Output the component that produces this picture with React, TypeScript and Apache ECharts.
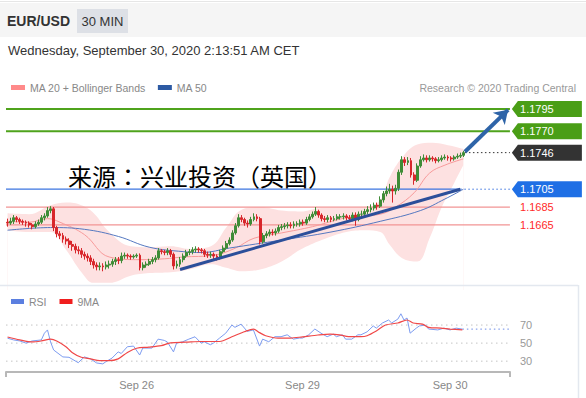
import React, { useEffect, useRef } from 'react';
import * as echarts from 'echarts';

const FONT = '"Liberation Sans", Arial, Helvetica, sans-serif';
const CJK = '"Noto Sans CJK TC", "Noto Sans CJK SC", sans-serif';

// ---- candles (30 min, EUR/USD) ----
const opens = [
  1.1668,1.1667,1.1669,1.1673,1.1671,1.1669,1.1668,1.1667,1.1665,1.1663,
  1.1666,1.1668,1.1673,1.1675,1.1681,1.1683,1.1662,1.1655,1.1653,1.1649,
  1.1647,1.1643,1.1641,1.1637,1.1636,1.1632,1.1630,1.1628,1.1624,1.1620,
  1.1618,1.1619,1.1618,1.1620,1.1621,1.1624,1.1626,1.1625,1.1630,1.1631,
  1.1630,1.1629,1.1630,1.1631,1.1617,1.1620,1.1621,1.1624,1.1626,1.1628,
  1.1636,1.1635,1.1634,1.1636,1.1632,1.1619,1.1621,1.1626,1.1630,1.1634,
  1.1635,1.1637,1.1638,1.1637,1.1636,1.1632,1.1631,1.1632,1.1630,1.1628,
  1.1635,1.1639,1.1644,1.1648,1.1656,1.1664,1.1673,1.1671,1.1667,1.1666,
  1.1671,1.1674,1.1672,1.1646,1.1653,1.1655,1.1657,1.1656,1.1658,1.1662,
  1.1663,1.1664,1.1665,1.1664,1.1666,1.1666,1.1668,1.1667,1.1671,1.1674,
  1.1677,1.1680,1.1676,1.1672,1.1671,1.1673,1.1671,1.1672,1.1674,1.1674,
  1.1675,1.1673,1.1672,1.1676,1.1671,1.1677,1.1677,1.1680,1.1682,1.1684,
  1.1687,1.1686,1.1693,1.1700,1.1703,1.1705,1.1703,1.1706,1.1724,1.1738,
  1.1735,1.1737,1.1721,1.1715,1.1731,1.1738,1.1740,1.1738,1.1740,1.1739,
  1.1737,1.1738,1.1740,1.1741,1.1740,1.1739,1.1741,1.1742,1.1743
];
const closes = [
  1.1667,1.1669,1.1673,1.1671,1.1669,1.1668,1.1667,1.1665,1.1663,1.1666,
  1.1668,1.1673,1.1675,1.1681,1.1683,1.1662,1.1655,1.1653,1.1649,1.1647,
  1.1643,1.1641,1.1637,1.1636,1.1632,1.1630,1.1628,1.1624,1.1620,1.1618,
  1.1619,1.1618,1.1620,1.1621,1.1624,1.1626,1.1625,1.1630,1.1631,1.1630,
  1.1629,1.1630,1.1631,1.1617,1.1620,1.1621,1.1624,1.1626,1.1628,1.1636,
  1.1635,1.1634,1.1636,1.1632,1.1619,1.1621,1.1626,1.1630,1.1634,1.1635,
  1.1637,1.1638,1.1637,1.1636,1.1632,1.1631,1.1632,1.1630,1.1628,1.1635,
  1.1639,1.1644,1.1648,1.1656,1.1664,1.1673,1.1671,1.1667,1.1666,1.1671,
  1.1674,1.1672,1.1646,1.1653,1.1655,1.1657,1.1656,1.1658,1.1662,1.1663,
  1.1664,1.1665,1.1664,1.1666,1.1666,1.1668,1.1667,1.1671,1.1674,1.1677,
  1.1680,1.1676,1.1672,1.1671,1.1673,1.1671,1.1672,1.1674,1.1674,1.1675,
  1.1673,1.1672,1.1676,1.1671,1.1677,1.1677,1.1680,1.1682,1.1684,1.1687,
  1.1686,1.1693,1.1700,1.1703,1.1705,1.1703,1.1706,1.1724,1.1738,1.1735,
  1.1737,1.1721,1.1715,1.1731,1.1738,1.1740,1.1738,1.1740,1.1739,1.1737,
  1.1738,1.1740,1.1741,1.1740,1.1739,1.1741,1.1742,1.1743,1.1746
];
const highs = [
  1.1672,1.1673,1.1676,1.1675,1.1673,1.1671,1.1670,1.1669,1.1667,1.1669,
  1.1671,1.1676,1.1678,1.1685,1.1686,1.1685,1.1664,1.1658,1.1656,1.1652,
  1.1650,1.1647,1.1644,1.1641,1.1639,1.1635,1.1633,1.1631,1.1627,1.1623,
  1.1623,1.1622,1.1624,1.1625,1.1627,1.1629,1.1629,1.1634,1.1634,1.1633,
  1.1632,1.1632,1.1633,1.1633,1.1623,1.1624,1.1627,1.1629,1.1631,1.1639,
  1.1638,1.1637,1.1639,1.1638,1.1634,1.1625,1.1629,1.1633,1.1637,1.1638,
  1.1640,1.1641,1.1640,1.1639,1.1638,1.1635,1.1635,1.1634,1.1632,1.1637,
  1.1642,1.1647,1.1651,1.1659,1.1667,1.1677,1.1676,1.1673,1.1670,1.1674,
  1.1678,1.1677,1.1674,1.1656,1.1658,1.1660,1.1660,1.1661,1.1665,1.1666,
  1.1667,1.1668,1.1668,1.1669,1.1669,1.1671,1.1671,1.1674,1.1677,1.1680,
  1.1685,1.1682,1.1678,1.1675,1.1676,1.1675,1.1675,1.1677,1.1677,1.1678,
  1.1677,1.1676,1.1679,1.1679,1.1680,1.1681,1.1683,1.1686,1.1688,1.1690,
  1.1690,1.1697,1.1703,1.1708,1.1711,1.1709,1.1710,1.1727,1.1742,1.1741,
  1.1741,1.1740,1.1724,1.1734,1.1742,1.1744,1.1743,1.1743,1.1742,1.1741,
  1.1741,1.1743,1.1744,1.1743,1.1742,1.1743,1.1745,1.1746,1.1748
];
const lows = [
  1.1663,1.1665,1.1666,1.1668,1.1666,1.1665,1.1663,1.1662,1.1660,1.1661,
  1.1664,1.1666,1.1670,1.1673,1.1678,1.1658,1.1651,1.1649,1.1645,1.1643,
  1.1639,1.1636,1.1633,1.1632,1.1628,1.1626,1.1624,1.1620,1.1616,1.1614,
  1.1614,1.1613,1.1615,1.1616,1.1618,1.1620,1.1621,1.1622,1.1627,1.1627,
  1.1626,1.1627,1.1628,1.1614,1.1614,1.1617,1.1619,1.1621,1.1623,1.1626,
  1.1632,1.1631,1.1631,1.1629,1.1615,1.1616,1.1618,1.1623,1.1628,1.1631,
  1.1632,1.1634,1.1634,1.1633,1.1629,1.1628,1.1628,1.1626,1.1625,1.1626,
  1.1633,1.1637,1.1642,1.1646,1.1654,1.1662,1.1668,1.1664,1.1662,1.1664,
  1.1669,1.1669,1.1643,1.1644,1.1650,1.1652,1.1653,1.1653,1.1656,1.1659,
  1.1660,1.1661,1.1661,1.1661,1.1663,1.1663,1.1664,1.1665,1.1669,1.1672,
  1.1675,1.1673,1.1669,1.1668,1.1668,1.1668,1.1669,1.1670,1.1671,1.1671,
  1.1670,1.1669,1.1669,1.1664,1.1669,1.1674,1.1675,1.1677,1.1679,1.1681,
  1.1682,1.1684,1.1690,1.1697,1.1700,1.1690,1.1699,1.1703,1.1721,1.1731,
  1.1732,1.1718,1.1710,1.1713,1.1729,1.1736,1.1735,1.1736,1.1736,1.1734,
  1.1735,1.1736,1.1738,1.1737,1.1736,1.1737,1.1739,1.1740,1.1741
];

// ---- indicators: [candle slot, value] ----
const ma50 = [[0,1.1659],[14,1.1662],[25,1.1660],[36,1.1652],[46,1.1640],[57,1.1635],[63,1.1634],[72,1.1639],[89,1.1648],[105,1.1657],[121,1.1669],[134,1.1681],[142,1.1694],[148,1.1705]];
const ma20 = [[0,1.1669],[7,1.1668],[13,1.1672],[17,1.1668],[25,1.1654],[33,1.1629],[43,1.1626],[51,1.1627],[57,1.1629],[67,1.1631],[74,1.1639],[80,1.1650],[89,1.1656],[99,1.1663],[110,1.1673],[121,1.1677],[126,1.1685],[132,1.1701],[137,1.1723],[142,1.1732],[148,1.1739]];
const bbUpper = [[0,1.1678],[7,1.1677],[14,1.1687],[19,1.1690],[24,1.1687],[28,1.1678],[33,1.1657],[40,1.1641],[46,1.1640],[53,1.1641],[59,1.1638],[66,1.1641],[71,1.1662],[76,1.1682],[82,1.1685],[89,1.1681],[95,1.1680],[102,1.1684],[110,1.1684],[116,1.1684],[121,1.1693],[124,1.1718],[128,1.1740],[133,1.1755],[138,1.1757],[142,1.1755],[148,1.1750]];
const bbLower = [[0,1.1659],[7,1.1657],[14,1.1657],[19,1.1637],[24,1.1612],[28,1.1600],[33,1.1600],[40,1.1608],[46,1.1611],[53,1.1612],[59,1.1615],[66,1.1621],[71,1.1617],[76,1.1613],[82,1.1615],[89,1.1624],[95,1.1637],[102,1.1648],[110,1.1657],[116,1.1659],[121,1.1657],[124,1.1643],[128,1.1628],[133,1.1624],[137,1.1650],[141,1.1685],[145,1.1712],[148,1.1732]];
const rsi = [[0,55.4],[2,53.5],[4,52.4],[6,50],[8,52.4],[11,53.5],[12,61],[13,64.6],[14,51.3],[15,42.4],[18,34.7],[20,34.3],[23,28.3],[25,34.7],[27,32.5],[29,28],[31,27],[32,29.4],[34,33.4],[36,40.3],[37,38.5],[39,46],[41,46.7],[43,36.8],[44,44.5],[47,44.5],[49,54.4],[51,53],[52,51.3],[54,40.3],[55,50],[57,51.5],[59,54.4],[61,57],[63,50],[64,51.5],[66,48.2],[67,50],[69,55.6],[71,61],[73,70],[74,67.5],[76,71],[78,63],[80,64.6],[82,46.7],[83,54.4],[85,51.5],[87,57.1],[89,57.1],[91,59.2],[93,54.4],[95,55.6],[96,55.6],[98,59.2],[100,65.6],[102,61],[104,57.1],[106,60],[107,57.1],[109,59.2],[110,54.4],[112,54.4],[114,59.2],[115,59.2],[117,62.5],[119,69],[120,66.6],[122,72.3],[124,75.6],[125,72.3],[127,76.6],[128,82.5],[129,75.6],[130,77.8],[131,61],[133,66.6],[134,69],[136,70],[137,65.6],[140,64.6],[142,66.6],[144,64.6],[146,66.6],[148,65.5]];
const rsiMa9 = [[0,56.8],[4,53.5],[8,51.3],[11,52.4],[14,54.4],[16,52.4],[19,46],[21,39.7],[24,34.3],[27,32.5],[30,30.5],[33,30.5],[36,32.5],[39,39.7],[42,44.3],[46,45.5],[50,47.2],[53,50.3],[58,51],[63,51.8],[67,51.8],[69,51.8],[73,57],[77,62.6],[80,65.6],[82,61.6],[84,58.2],[88,55.6],[92,55.6],[96,57],[101,59],[105,60],[108,59.2],[111,57.1],[115,57.1],[117,58.2],[120,63.5],[123,70],[127,72.3],[130,75.6],[132,72.3],[135,71],[137,67.5],[141,66.6],[144,65.6],[148,64.6]];

// ---- levels, trend line, arrow ----
const resistanceLevels = [1.1795, 1.1770];
const lastPrice = 1.1746;
const pivotLevel = 1.1705;
const supportLevels = [1.1685, 1.1665];
const trendLine = [[56, 1.1615], [147, 1.1705]];
const targetArrow = [[148.5, 1.1747], [162.5, 1.1794]];
const lastRsi = 65.5;

// ---- axis labels ----
const rsiTicks = [30, 50, 70];
const dateLabels = ['Sep 26', 'Sep 29', 'Sep 30'];
const dateSlots = [42, 96, 144];

const MAIN_SLOTS = 187;
const LINE_START = -0.5;
const LINE_END = 163.1;
const LAST_SLOT = 148;
const TAG_X = 175.1;
const GREEN = '#4a9e16';
const BLUE = '#1f6fe5';
const UP = '#3f8c37';
const DOWN = '#d8262b';
const TAG = 'path://M0,8L6,0L70,0L70,16L6,16Z';

function tag(price: number, color: string, textColor = '#fff') {
  return {
    name: price.toFixed(4),
    coord: [TAG_X, price],
    itemStyle: { color },
    label: { color: textColor },
  };
}

function segment(name: string, pts: number[][], color: string, width: number, type: any = 'solid', z = 4, xAxisIndex = 1, yAxisIndex = 0) {
  return {
    name, type: 'line', xAxisIndex, yAxisIndex, data: pts, symbol: 'none', silent: true, z,
    lineStyle: { color, width, type, cap: 'butt' }, itemStyle: { color },
  };
}

export default function App() {
  const ref = useRef<HTMLDivElement>(null);
  useEffect(() => {
    const chart = echarts.init(ref.current!, null, { renderer: 'svg' });
    const slots = Array.from({ length: MAIN_SLOTS }, (_, i) => String(i));
    const candles = opens.map((o, i) => [o, closes[i], lows[i], highs[i]]);

    const levelSeries = [
      ...resistanceLevels.map((p, i) => segment('res' + i, [[LINE_START, p], [LINE_END, p]], '#4fa31c', 2)),
      segment('pivot', [[LINE_START, pivotLevel], [147, pivotLevel]], '#3b74e0', 1.3),
      segment('pivotDot', [[147, pivotLevel], [LINE_END, pivotLevel]], '#3b74e0', 1, [1.5, 2.5]),
      ...supportLevels.map((p, i) => segment('sup' + i, [[LINE_START, p], [LINE_END, p]], '#f29494', 1.2)),
      segment('last', [[LAST_SLOT + 0.5, lastPrice], [LINE_END, lastPrice]], '#333', 1, [1.5, 2.5]),
      segment('trend', trendLine, '#2c4f9a', 3, 'solid', 7),
    ];

    const option: any = {
      animation: false,
      textStyle: { fontFamily: FONT },
      legend: [
        {
          left: 6, top: 77, icon: 'rect', itemWidth: 14, itemHeight: 5, itemGap: 12,
          data: ['MA 20 + Bollinger Bands', 'MA 50'],
          textStyle: { color: '#888', fontSize: 10.5, fontFamily: FONT },
          selectedMode: false,
        },
        {
          left: 6, top: 291, icon: 'rect', itemWidth: 13, itemHeight: 5, itemGap: 13,
          data: ['RSI', '9MA'],
          textStyle: { color: '#888', fontSize: 10.5, fontFamily: FONT },
          selectedMode: false,
        },
      ],
      grid: [
        { left: 6, top: 100, width: 576, height: 190 },
        { left: 6, top: 307, width: 504, height: 65 },
      ],
      xAxis: [
        { type: 'category', gridIndex: 0, data: slots, show: false, boundaryGap: true },
        { type: 'value', gridIndex: 0, min: -0.5, max: MAIN_SLOTS - 0.5, show: false },
        {
          type: 'value', gridIndex: 1, min: -0.5, max: 163.5,
          axisLine: { show: true, lineStyle: { color: '#b8b8b8', width: 2 } },
          axisTick: { show: true, customValues: [-0.5, 163.5], length: 5, lineStyle: { color: '#b8b8b8', width: 2 } },
          axisLabel: {
            customValues: dateSlots, color: '#888', fontSize: 11, margin: 7, fontFamily: FONT,
            formatter: (v: number) => dateLabels[dateSlots.indexOf(v)] ?? '',
          },
          splitLine: { show: false },
        },
      ],
      yAxis: [
        { type: 'value', gridIndex: 0, min: 1.1592, max: 1.1805, show: false },
        {
          type: 'value', gridIndex: 1, min: 18, max: 90, position: 'right',
          axisLine: { show: false }, axisTick: { show: false }, splitLine: { show: false },
          axisLabel: { customValues: rsiTicks, color: '#999', fontSize: 11, margin: 10, fontFamily: FONT },
        },
      ],
      series: [
        {
          name: 'bbU', type: 'line', xAxisIndex: 1, yAxisIndex: 0, data: bbUpper,
          smooth: 0.4, symbol: 'none', silent: true, z: 1,
          lineStyle: { width: 0, opacity: 0 },
          areaStyle: { color: '#fde1e1', opacity: 1, origin: 'start' },
        },
        {
          name: 'bbL', type: 'line', xAxisIndex: 1, yAxisIndex: 0, data: bbLower,
          smooth: 0.4, symbol: 'none', silent: true, z: 2,
          lineStyle: { width: 0, opacity: 0 },
          areaStyle: { color: '#ffffff', opacity: 1, origin: 'start' },
        },
        ...levelSeries,
        {
          name: 'MA 20 + Bollinger Bands', type: 'line', xAxisIndex: 1, yAxisIndex: 0, data: ma20,
          smooth: 0.4, symbol: 'none', silent: true, z: 5,
          itemStyle: { color: '#ff8a8a' },
          lineStyle: { color: '#f79a9a', width: 1 },
        },
        {
          name: 'MA 50', type: 'line', xAxisIndex: 1, yAxisIndex: 0, data: ma50,
          smooth: 0.4, symbol: 'none', silent: true, z: 5,
          itemStyle: { color: '#2d5aa3' },
          lineStyle: { color: '#5578c0', width: 1 },
          markLine: {
            silent: true, label: { show: false },
            data: [
              [
                { coord: targetArrow[0], symbol: 'none' },
                { coord: targetArrow[1], symbol: 'arrow', symbolSize: 13 },
              ],
            ],
            lineStyle: { color: '#2e64a8', width: 4, type: 'solid' },
            itemStyle: { color: '#2e64a8' },
          },
          markPoint: {
            silent: true, symbol: TAG, symbolSize: [70, 16],
            label: { show: true, position: 'inside', offset: [-10, 0], fontSize: 11, fontFamily: FONT, formatter: '{b}' },
            data: [
              ...resistanceLevels.map((p) => tag(p, GREEN)),
              tag(lastPrice, '#333333'),
              tag(pivotLevel, BLUE),
              ...supportLevels.map((p) => tag(p, 'rgba(0,0,0,0)', '#ff2a2a')),
            ],
          },
        },
        {
          name: 'candles', type: 'candlestick', xAxisIndex: 0, yAxisIndex: 0, data: candles,
          barWidth: 2.4, silent: true, z: 6,
          itemStyle: { color: UP, color0: DOWN, borderColor: UP, borderColor0: DOWN, borderWidth: 1 },
        },
        ...rsiTicks.map((v) => segment('grid' + v, [[-0.5, v], [163.5, v]], '#c4c4c4', 1, [1.5, 3.5], 3, 2, 1)),
        segment('rsiLast', [[LAST_SLOT, lastRsi], [163.5, lastRsi]], '#6b8be8', 1, [1.5, 3], 4, 2, 1),
        {
          name: 'RSI', type: 'line', xAxisIndex: 2, yAxisIndex: 1, data: rsi,
          symbol: 'none', silent: true, z: 5,
          itemStyle: { color: '#5b7fe0' },
          lineStyle: { color: '#7d9cf0', width: 1 },
        },
        {
          name: '9MA', type: 'line', xAxisIndex: 2, yAxisIndex: 1, data: rsiMa9,
          smooth: 0.3, symbol: 'none', silent: true, z: 6,
          itemStyle: { color: '#f01e1e' },
          lineStyle: { color: '#f04848', width: 1.2 },
        },
      ],
      graphic: [
        { type: 'rect', left: 0, top: 3, shape: { width: 586, height: 34 }, style: { fill: '#f5f5f5' }, z: 0, silent: true },
        { type: 'line', shape: { x1: 0, y1: 1.5, x2: 586, y2: 1.5 }, style: { stroke: '#e6e6e6', lineWidth: 1 }, z: 0, silent: true },
        { type: 'rect', shape: { x: 77, y: 9, width: 51, height: 24 }, style: { fill: '#dde0e6' }, z: 1, silent: true },
        { type: 'text', x: 102.5, y: 21, style: { text: '30 MIN', fill: '#333', font: `13px ${FONT}`, align: 'center', verticalAlign: 'middle' }, z: 2, silent: true },
        { type: 'text', x: 7, y: 21, style: { text: 'EUR/USD', fill: '#333', font: `bold 14px ${FONT}`, align: 'left', verticalAlign: 'middle' }, z: 2, silent: true },
        { type: 'text', x: 8, y: 50, style: { text: 'Wednesday, September 30, 2020 2:13:51 AM CET', fill: '#333', font: `13px ${FONT}`, align: 'left', verticalAlign: 'middle' }, z: 2, silent: true },
        { type: 'text', x: 576, y: 88, style: { text: 'Research © 2020 Trading Central', fill: '#999', font: `10.5px ${FONT}`, align: 'right', verticalAlign: 'middle' }, z: 2, silent: true },
        { type: 'line', shape: { x1: 0, y1: 285.5, x2: 578, y2: 285.5 }, style: { stroke: '#e3e8ef', lineWidth: 1.5 }, z: 50, silent: true },
        { type: 'line', shape: { x1: 578.5, y1: 285, x2: 578.5, y2: 398 }, style: { stroke: '#e3e8ef', lineWidth: 1.5 }, z: 50, silent: true },
        { type: 'text', x: 68, y: 175, style: { text: '来源：兴业投资（英国）', fill: '#000', font: `24px ${CJK}`, align: 'left', verticalAlign: 'middle' }, z: 100, silent: true },
      ],
    };
    chart.setOption(option);
    return () => chart.dispose();
  }, []);
  return (
    <div style={{ position: 'fixed', left: 0, top: 0, width: 586, height: 398, background: '#fff' }}>
      <div ref={ref} style={{ width: 586, height: 398 }} />
    </div>
  );
}
